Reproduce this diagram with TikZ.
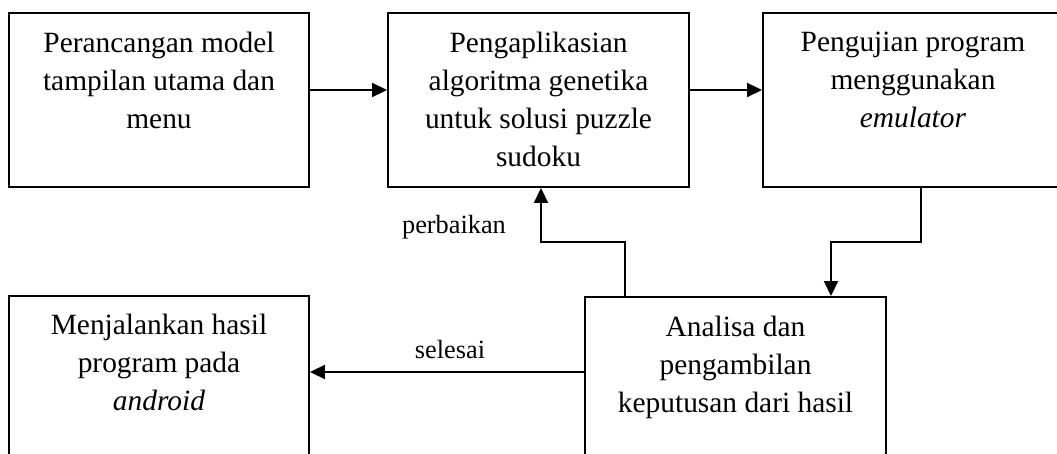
\documentclass[tikz,border=0pt]{standalone}
\usepackage{fontspec}
\setmainfont{Liberation Serif}
\usetikzlibrary{arrows.meta}
\tikzset{
  box/.style={draw, line width=1.9pt, inner sep=0pt, minimum height=174pt},
  boxtext/.style={anchor=north, inner sep=0pt, align=center, font=\fontsize{29.4}{38}\selectfont},
  lbl/.style={anchor=base, inner sep=0pt, font=\fontsize{26.3}{30}\selectfont},
  arr/.style={line width=1.9pt, -{Triangle[length=15pt,width=14pt]}}
}
\begin{document}
\begin{tikzpicture}[x=1pt,y=-1pt]
\useasboundingbox (0,0) rectangle (1057,454);
\clip (0,0) rectangle (1057,454);
% boxes
\node[box, minimum width=300pt] (b1) at (159,100) {};
\node[box, minimum width=301pt] (b2) at (538.5,100) {};
\node[box, minimum width=300pt] (b3) at (913,100) {};
\node[box, minimum width=300pt] (b4) at (159,383) {};
\node[box, minimum width=301pt] (b5) at (735.5,384) {};
% texts
\node[boxtext] (t1) at (159,32) {Perancangan model\\tampilan utama dan\\menu};
\node[boxtext] (t2) at (538.5,32) {Pengaplikasian\\algoritma genetika\\untuk solusi puzzle\\sudoku};
\node[boxtext] (t3) at (913,32) {Pengujian program\\menggunakan\\\textit{emulator}};
\node[boxtext] (t4) at (159,314) {Menjalankan hasil\\program pada\\\textit{android}};
\node[boxtext] (t5) at (735.5,316) {Analisa dan\\pengambilan\\keputusan dari hasil};
% labels
\node[lbl] (l1) at (454,234) {perbaikan};
\node[lbl] (l2) at (450,358) {selesai};
% connectors
\coordinate (c1) at (921,242);
\coordinate (c2) at (831,242);
\coordinate (c3) at (625,242);
\coordinate (c4) at (541,242);
\draw[arr] (b1.east |- 0,90) -- (b2.west |- 0,90);
\draw[arr] (b2.east |- 0,90) -- (b3.west |- 0,90);
\draw[arr] (b3.south -| c1) -- (c1) -- (c2) -- (b5.north -| c2);
\draw[arr] (b5.north -| c3) -- (c3) -- (c4) -- (b2.south -| c4);
\draw[arr] (b5.west |- 0,372) -- (b4.east |- 0,372);
\end{tikzpicture}
\end{document}
